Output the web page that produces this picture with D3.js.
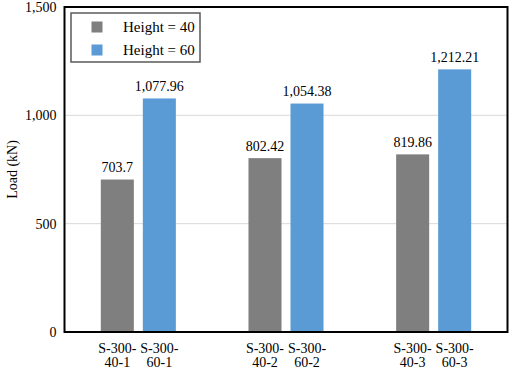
<!DOCTYPE html>
<html>
<head>
<meta charset="utf-8">
<script src="https://cdn.jsdelivr.net/npm/d3@7"></script>
<style>
  body { margin: 0; background: #fff; }
</style>
</head>
<body>
<svg width="512" height="371" font-family="Liberation Serif, Times New Roman, serif" font-size="14"></svg>
<script>
"use strict";

// values
const groups = ["1", "2", "3"];
const series = ["Height = 40", "Height = 60"];
const height40 = [703.7, 802.42, 819.86];
const height60 = [1077.96, 1054.38, 1212.21];
const labels40 = ["40-1", "40-2", "40-3"];
const labels60 = ["60-1", "60-2", "60-3"];
const yTicks = [0, 500, 1000, 1500];
const colors = ["#7f7f7f", "#5b9bd5"];
const FONT = "Liberation Serif, Times New Roman, serif";

window.addEventListener("load", drawGraph);

function drawGraph() {
  const svg = d3.select("svg");
  const margin = { top: 7, right: 4.5, bottom: 39, left: 64.5 };
  const width = 512 - margin.left - margin.right;
  const height = 371 - margin.top - margin.bottom;

  const g = svg.append("g").attr("transform", `translate(${margin.left},${margin.top})`);

  const x0 = d3.scaleBand().domain(groups).range([0, width]).padding(0);
  const x1 = d3.scaleBand().domain(series).range([0, x0.bandwidth()])
    .paddingInner(0.214).paddingOuter(0.864);
  const y = d3.scaleLinear().domain([0, 1500]).range([height, 0]);

  // gridlines
  g.selectAll(".grid")
    .data(yTicks.filter((t) => t > 0 && t < 1500))
    .enter().append("line")
    .attr("x1", 0).attr("x2", width)
    .attr("y1", (d) => y(d)).attr("y2", (d) => y(d))
    .attr("stroke", "#d9d9d9").attr("stroke-width", 1);

  // y axis labels
  const yAxis = g.append("g")
    .call(d3.axisLeft(y).tickValues(yTicks).tickSize(0).tickPadding(8).tickFormat(d3.format(",")));
  yAxis.select(".domain").remove();
  yAxis.attr("font-family", FONT).attr("font-size", 14);
  yAxis.selectAll("text").attr("fill", "#000");

  const rows = groups.map((grp, i) => [
    { group: grp, s: series[0], v: height40[i], lab: labels40[i], c: colors[0] },
    { group: grp, s: series[1], v: height60[i], lab: labels60[i], c: colors[1] },
  ]).flat();

  g.selectAll(".bar")
    .data(rows)
    .enter().append("rect")
    .attr("class", "bar")
    .attr("x", (d) => x0(d.group) + x1(d.s))
    .attr("width", x1.bandwidth())
    .attr("y", (d) => y(d.v))
    .attr("height", (d) => height - y(d.v))
    .attr("fill", (d) => d.c);

  g.selectAll(".val")
    .data(rows)
    .enter().append("text")
    .attr("x", (d) => x0(d.group) + x1(d.s) + x1.bandwidth() / 2)
    .attr("y", (d) => y(d.v) - 7.5)
    .attr("text-anchor", "middle")
    .attr("font-family", FONT)
    .text((d) => d3.format(",")(d.v));

  // category labels (two lines)
  const cat = g.selectAll(".cat")
    .data(rows)
    .enter().append("text")
    .attr("text-anchor", "middle")
    .attr("font-family", FONT);
  cat.append("tspan")
    .attr("x", (d) => x0(d.group) + x1(d.s) + x1.bandwidth() / 2)
    .attr("y", height + 21)
    .text("S-300-");
  cat.append("tspan")
    .attr("x", (d) => x0(d.group) + x1(d.s) + x1.bandwidth() / 2)
    .attr("y", height + 35)
    .text((d) => d.lab);

  // plot frame
  g.append("rect")
    .attr("x", 0).attr("y", 0)
    .attr("width", width).attr("height", height)
    .attr("fill", "none").attr("stroke", "#000").attr("stroke-width", 2);

  // axis title
  svg.append("text")
    .attr("transform", `translate(17,${margin.top + height / 2}) rotate(-90)`)
    .attr("text-anchor", "middle")
    .attr("font-family", FONT)
    .text("Load (kN)");

  // legend
  const legend = svg.append("g").attr("transform", "translate(71,13)");
  legend.append("rect")
    .attr("width", 129).attr("height", 49)
    .attr("fill", "#fff").attr("stroke", "#595959").attr("stroke-width", 1.5);
  series.forEach((s, i) => {
    legend.append("rect")
      .attr("x", 20.5).attr("y", 8.5 + i * 23)
      .attr("width", 11).attr("height", 11)
      .attr("fill", colors[i]);
    legend.append("text")
      .attr("x", 52).attr("y", 19 + i * 23)
      .attr("font-family", FONT)
      .attr("font-size", 15)
      .text(s);
  });
}
</script>
</body>
</html>
